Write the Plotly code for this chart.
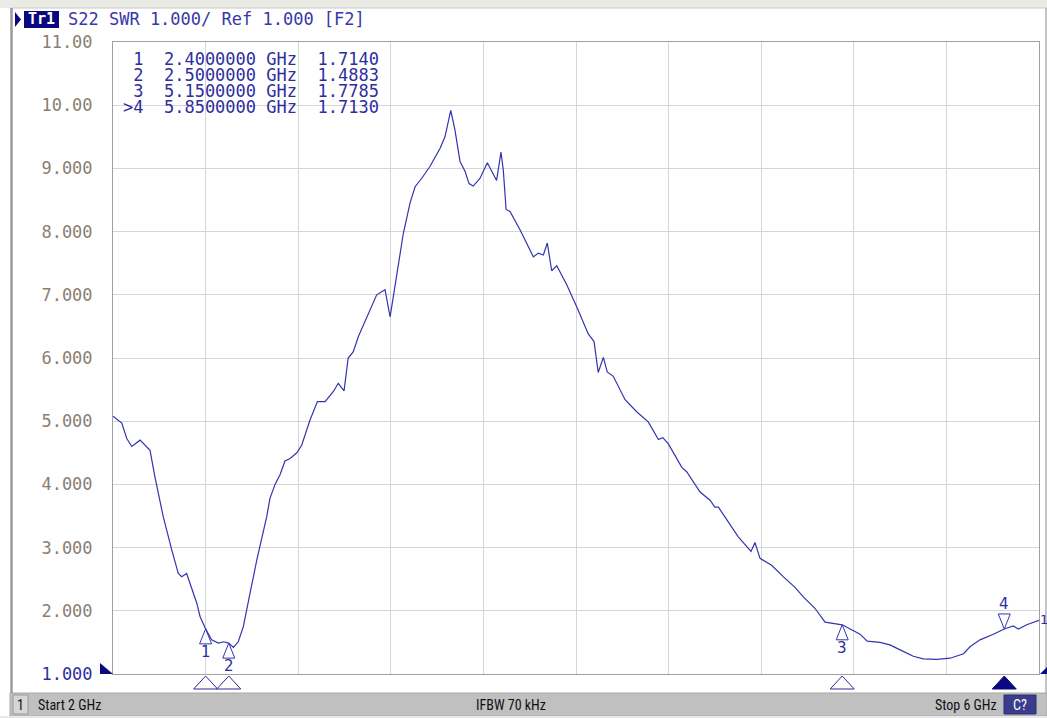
import plotly.graph_objects as go

# ---------------- data ----------------
freq_ghz = [2.000, 2.038, 2.059, 2.081, 2.117, 2.160, 2.181, 2.217, 2.254, 2.282,
            2.297, 2.318, 2.362, 2.376, 2.400, 2.426, 2.455, 2.479, 2.500, 2.520,
            2.541, 2.563, 2.592, 2.621, 2.664, 2.678, 2.700, 2.721, 2.743, 2.765,
            2.794, 2.815, 2.851, 2.883, 2.916, 2.952, 2.973, 2.998, 3.016, 3.038,
            3.060, 3.096, 3.139, 3.175, 3.197, 3.254, 3.283, 3.305, 3.333, 3.369,
            3.413, 3.434, 3.459, 3.477, 3.499, 3.521, 3.538, 3.556, 3.585, 3.617,
            3.657, 3.676, 3.686, 3.698, 3.715, 3.758, 3.816, 3.837, 3.859, 3.876,
            3.895, 3.917, 3.960, 4.003, 4.053, 4.078, 4.096, 4.118, 4.135, 4.161,
            4.212, 4.262, 4.312, 4.356, 4.375, 4.399, 4.457, 4.478, 4.536, 4.579,
            4.600, 4.615, 4.658, 4.701, 4.756, 4.773, 4.795, 4.845, 4.895, 4.946,
            4.982, 5.032, 5.076, 5.150, 5.227, 5.258, 5.313, 5.356, 5.407, 5.457,
            5.500, 5.558, 5.616, 5.674, 5.702, 5.745, 5.803, 5.850, 5.889, 5.911,
            5.947, 6.000]
swr = [5.08, 4.97, 4.73, 4.60, 4.70, 4.54, 4.12, 3.49, 2.96, 2.59,
       2.54, 2.59, 2.12, 1.91, 1.714, 1.54, 1.49, 1.51, 1.4883, 1.42,
       1.51, 1.75, 2.28, 2.80, 3.49, 3.78, 4.00, 4.15, 4.37, 4.41,
       4.50, 4.62, 5.02, 5.31, 5.31, 5.47, 5.60, 5.48, 6.00, 6.10,
       6.34, 6.63, 7.00, 7.08, 6.65, 7.97, 8.45, 8.71, 8.84, 9.03,
       9.32, 9.50, 9.92, 9.61, 9.11, 8.95, 8.76, 8.72, 8.84, 9.09,
       8.81, 9.26, 8.97, 8.35, 8.32, 8.03, 7.60, 7.66, 7.63, 7.82,
       7.38, 7.46, 7.16, 6.81, 6.38, 6.26, 5.77, 6.01, 5.78, 5.71,
       5.34, 5.15, 4.99, 4.71, 4.74, 4.64, 4.27, 4.20, 3.88, 3.75,
       3.64, 3.64, 3.41, 3.17, 2.94, 3.08, 2.83, 2.72, 2.54, 2.37,
       2.22, 2.04, 1.82, 1.7785, 1.63, 1.52, 1.50, 1.46, 1.37, 1.28,
       1.24, 1.23, 1.25, 1.32, 1.43, 1.54, 1.63, 1.713, 1.76, 1.71,
       1.78, 1.85]

marker_ids = ["1", "2", "3", "4"]
marker_freq = [2.40, 2.50, 5.15, 5.85]
marker_val = [1.7140, 1.4883, 1.7785, 1.7130]
marker_freq_text = ["2.4000000", "2.5000000", "5.1500000", "5.8500000"]
marker_val_text = ["1.7140", "1.4883", "1.7785", "1.7130"]
active_marker = "4"

y_ticks = [1, 2, 3, 4, 5, 6, 7, 8, 9, 10, 11]
y_tick_text = ["1.000", "2.000", "3.000", "4.000", "5.000", "6.000", "7.000",
               "8.000", "9.000", "10.00", "11.00"]
x_start, x_stop, x_step = 2.0, 6.0, 0.4
title_text = "S22 SWR 1.000/ Ref 1.000 [F2]"
status_left = "Start 2 GHz"
status_mid = "IFBW 70 kHz"
status_right = "Stop 6 GHz"

# ---------------- layout geometry (pixels) ----------------
W, H = 1047, 718
PL, PR, PT, PB = 113, 1039, 42, 674
def px(x):
    return (x - PL) / (PR - PL)
def py(y):
    return (PB - y) / (PB - PT)

TRACE = "#3434ae"
TEXTBLUE = "#2e2ea0"
NAVY = "#0a0a7e"
GRAY = "#8a7e72"
MONO = "DejaVu Sans Mono, Liberation Mono, monospace"
NARROW = "Liberation Sans Narrow, Roboto Condensed, Arial Narrow, sans-serif"

fig = go.Figure()
fig.add_trace(go.Scatter(x=freq_ghz, y=swr, mode="lines",
                         line=dict(color=TRACE, width=1.2), hoverinfo="skip",
                         showlegend=False))

shapes = []
annotations = []

def txt(x, y, text, font, xanchor="center", yanchor="middle", **kw):
    d = dict(xref="paper", yref="paper", x=px(x), y=py(y), text=text, showarrow=False,
             xanchor=xanchor, yanchor=yanchor, font=font)
    d.update(kw)
    return d

# window chrome
shapes.append(dict(type="rect", xref="paper", yref="paper", x0=px(0), x1=px(W),
                   y0=py(0), y1=py(8), fillcolor="#ebebe6", line=dict(width=0), layer="below"))
shapes.append(dict(type="line", xref="paper", yref="paper", x0=px(10), x1=px(W),
                   y0=py(8), y1=py(8), line=dict(color="#c8c8c8", width=1)))
shapes.append(dict(type="line", xref="paper", yref="paper", x0=px(11.5), x1=px(11.5),
                   y0=py(8), y1=py(693), line=dict(color="#9a9a9a", width=2.5)))
shapes.append(dict(type="line", xref="paper", yref="paper", x0=px(1046), x1=px(1046),
                   y0=py(8), y1=py(693), line=dict(color="#b0b0b0", width=1.5)))
# status bar
shapes.append(dict(type="rect", xref="paper", yref="paper", x0=px(10), x1=px(W),
                   y0=py(693), y1=py(716), fillcolor="#c0c0c0",
                   line=dict(color="#a8a8a8", width=1)))
shapes.append(dict(type="rect", xref="paper", yref="paper", x0=px(13), x1=px(28),
                   y0=py(695), y1=py(714), fillcolor="#d6d6d6",
                   line=dict(color="#9c9c9c", width=1)))
shapes.append(dict(type="rect", xref="paper", yref="paper", x0=px(1004), x1=px(1036),
                   y0=py(695), y1=py(714), fillcolor="#3c3c8c",
                   line=dict(color="#2a2a70", width=1)))
shapes.append(dict(type="rect", xref="paper", yref="paper", x0=px(0), x1=px(W),
                   y0=py(716), y1=py(H), fillcolor="#e8e8e8", line=dict(width=0)))

sfont = dict(family=NARROW, size=14, color="#101010")
annotations += [
    txt(20.5, 704.5, "1", sfont),
    txt(36, 704.5, status_left, sfont, xanchor="left"),
    txt(511, 704.5, status_mid, sfont),
    txt(999, 704.5, status_right, sfont, xanchor="right"),
    txt(1020, 704.5, "C?", dict(family=NARROW, size=14, color="#ffffff")),
]

# title line
shapes.append(dict(type="path", xref="paper", yref="paper",
                   path=f"M {px(15)},{py(12)} L {px(21)},{py(19.5)} L {px(15)},{py(27)} Z",
                   fillcolor=NAVY, line=dict(width=0)))
shapes.append(dict(type="rect", xref="paper", yref="paper", x0=px(24), x1=px(59),
                   y0=py(11), y1=py(28), fillcolor=NAVY, line=dict(width=0)))
annotations += [
    txt(41.5, 19.5, "<b>Tr1</b>", dict(family=MONO, size=15, color="#ffffff")),
    txt(66, 19.5, title_text.replace(" ", "\u00a0"), dict(family=MONO, size=17, color="#3838a8"),
        xanchor="left"),
]

# marker table
row_y = [58, 74.5, 90.5, 106.5]
for i, mid in enumerate(marker_ids):
    prefix = ">" if mid == active_marker else "\u00a0"
    row = f"{prefix}{mid}\u00a0\u00a0{marker_freq_text[i]}\u00a0GHz\u00a0\u00a0{marker_val_text[i]}"
    annotations.append(txt(121, row_y[i], row, dict(family=MONO, size=17, color=TEXTBLUE),
                           xanchor="left", height=15))

# markers on trace
for i, mid in enumerate(marker_ids):
    f, v = marker_freq[i], marker_val[i]
    if mid == active_marker:
        path = "M 0 0 L -6 15 L 6 15 Z"
        ysh = 25
    else:
        path = "M 0 0 L -6 -15 L 6 -15 Z"
        ysh = -23
    shapes.append(dict(type="path", xref="x", yref="y", xsizemode="pixel", ysizemode="pixel",
                       xanchor=f, yanchor=v, path=path, fillcolor="rgba(255,255,255,0.6)",
                       line=dict(color=TRACE, width=1)))
    annotations.append(dict(xref="x", yref="y", x=f, y=v, text=mid, showarrow=False, yshift=ysh,
                            xanchor="center", yanchor="middle",
                            font=dict(family="DejaVu Sans, sans-serif", size=15, color=TEXTBLUE)))
    # stimulus markers under the grid
    shapes.append(dict(type="path", xref="x", yref="paper", xsizemode="pixel", ysizemode="pixel",
                       xanchor=f, yanchor=0, path="M 0 -2 L -12 -15 L 12 -15 Z",
                       fillcolor=NAVY if mid == active_marker else "white",
                       line=dict(color=NAVY if mid == active_marker else "#2828a0", width=1)))

# reference level arrows
shapes.append(dict(type="path", xref="paper", yref="y", xsizemode="pixel", ysizemode="pixel",
                   xanchor=0, yanchor=1, path="M 0 0 L -13 11 L -13 -11 Z",
                   fillcolor=NAVY, line=dict(width=0)))
shapes.append(dict(type="path", xref="paper", yref="y", xsizemode="pixel", ysizemode="pixel",
                   xanchor=1, yanchor=1, path="M 1 0 L 12 11 L 12 -11 Z",
                   fillcolor=NAVY, line=dict(width=0)))
annotations.append(dict(xref="x", yref="y", x=freq_ghz[-1], y=swr[-1], text="1", showarrow=False,
                        xanchor="left", yanchor="middle", xshift=-1, yshift=1,
                        font=dict(family="DejaVu Sans, sans-serif", size=13, color=TEXTBLUE)))

tick_text = [f'<span style="color:{TEXTBLUE}">{t}</span>' if i == 0 else t
             for i, t in enumerate(y_tick_text)]

fig.update_layout(
    width=W, height=H, autosize=False,
    margin=dict(l=PL, r=W - PR, t=PT, b=H - PB, pad=0),
    paper_bgcolor="white", plot_bgcolor="white",
    shapes=shapes, annotations=annotations, showlegend=False,
    xaxis=dict(range=[x_start, x_stop], dtick=x_step, tick0=x_start, showticklabels=False,
               showgrid=True, gridcolor="#d6d6d6", gridwidth=1, zeroline=False,
               showline=True, mirror=True, linecolor="#a0a0a0", linewidth=1, ticks=""),
    yaxis=dict(range=[1, 11], tickvals=y_ticks, ticktext=tick_text, showgrid=True,
               gridcolor="#d6d6d6", gridwidth=1, zeroline=False, showline=True, mirror=True,
               linecolor="#a0a0a0", linewidth=1, ticks="", ticklabelstandoff=16,
               tickfont=dict(family=MONO, size=17, color=GRAY)),
)

fig.write_html("out.html", config={"displayModeBar": False},
               post_script="document.body.style.margin='0';document.body.style.overflow='hidden';")
